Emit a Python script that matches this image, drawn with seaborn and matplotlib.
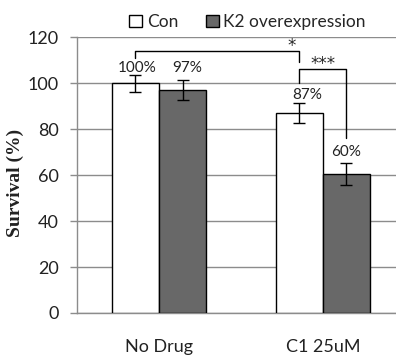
import numpy as np
import pandas as pd
import matplotlib
matplotlib.use('Agg')
import matplotlib.pyplot as plt
import seaborn as sns

# data
conditions = ['No Drug', 'C1 25uM']
groups = ['Con', 'K2 overexpression']
survival_con = [100, 87]
survival_k2 = [97, 60.5]
err_con = [3.7, 4.2]
err_k2 = [4.3, 4.8]
pct_labels_con = ['100%', '87%']
pct_labels_k2 = ['97%', '60%']
y_ticks = [0, 20, 40, 60, 80, 100, 120]

# significance brackets: (text, top level, left leg end, right leg end)
sig_star = ('*', 114, 111, 109)
sig_triple = ('***', 106, 100, 76)

df = pd.DataFrame({
    'Condition': conditions * 2,
    'Group': [groups[0]] * 2 + [groups[1]] * 2,
    'Survival': survival_con + survival_k2,
})

sns.set_theme(style='white')
plt.rcParams['font.family'] = ['Lato', 'DejaVu Sans']

fig = plt.figure(figsize=(3.96, 3.56), dpi=100)
ax = fig.add_axes([0.1944, 0.1208, 0.828, 0.775])

sns.barplot(data=df, x='Condition', y='Survival', hue='Group',
            palette=['white', '#686868'], edgecolor='black', linewidth=1,
            width=0.575, errorbar=None, ax=ax, zorder=3)

bars_con = list(ax.containers[0])
bars_k2 = list(ax.containers[1])
x_con = [b.get_x() + b.get_width() / 2 for b in bars_con]
x_k2 = [b.get_x() + b.get_width() / 2 for b in bars_k2]

ax.errorbar(x_con, survival_con, yerr=err_con, fmt='none', ecolor='black',
            elinewidth=1, capsize=4, capthick=1, zorder=4)
ax.errorbar(x_k2, survival_k2, yerr=err_k2, fmt='none', ecolor='black',
            elinewidth=1, capsize=4, capthick=1, zorder=4)

# percentage labels
label_y_con = [106.5, 95]
label_y_k2 = [106.5, 70]
offs_con = [0.01, 0.05]
offs_k2 = [0.03, 0.0]
for xs, lab, ly, off in [(x_con, pct_labels_con, label_y_con, offs_con),
                         (x_k2, pct_labels_k2, label_y_k2, offs_k2)]:
    for x, t, y, o in zip(xs, lab, ly, off):
        ax.text(x + o, y, t, ha='center', va='center', fontsize=11, color='#222222', zorder=5)

# brackets
t, top, l, r = sig_star
ax.plot([x_con[0], x_con[0], x_con[1], x_con[1]], [l, top, top, r],
        color='black', lw=1, zorder=5, clip_on=False)
ax.text(x_con[1] - 0.045, top + 2.2, t, ha='center', va='center', fontsize=12,
        fontfamily='DejaVu Sans', zorder=5)
t, top, l, r = sig_triple
ax.plot([x_con[1], x_con[1], x_k2[1], x_k2[1]], [l, top, top, r],
        color='black', lw=1, zorder=5, clip_on=False)
ax.text((x_con[1] + x_k2[1]) / 2, top + 2.2, t, ha='center', va='center', fontsize=12,
        fontfamily='DejaVu Sans', zorder=5)

ax.set_xlim(-0.5, 1.5)
ax.set_ylim(0, 120)
ax.set_yticks(y_ticks)
ax.yaxis.grid(True, color='#8c8c8c', lw=1)
ax.set_axisbelow(True)
for s in ['top', 'right']:
    ax.spines[s].set_visible(False)
for s in ['left', 'bottom']:
    ax.spines[s].set_color('#8c8c8c')
    ax.spines[s].set_linewidth(1)
ax.tick_params(axis='y', which='major', left=True, length=5, width=1,
               color='#8c8c8c', pad=8, labelsize=13, labelcolor='#222222')
ax.tick_params(axis='x', bottom=False, pad=13, labelsize=13, labelcolor='#222222')

ax.set_xlabel('')
ax.set_ylabel('Survival (%)', fontfamily='Liberation Serif', fontweight='bold',
              fontsize=14, color='#222222')
ax.yaxis.set_label_coords(-0.162, 0.47)

sns.move_legend(ax, 'center', bbox_to_anchor=(0.625, 0.938),
                bbox_transform=fig.transFigure, ncol=2, frameon=False, title=None,
                fontsize=12.5, handlelength=0.75, handleheight=0.75,
                handletextpad=0.25, columnspacing=1.6)

fig.savefig('out.png', dpi=100)
